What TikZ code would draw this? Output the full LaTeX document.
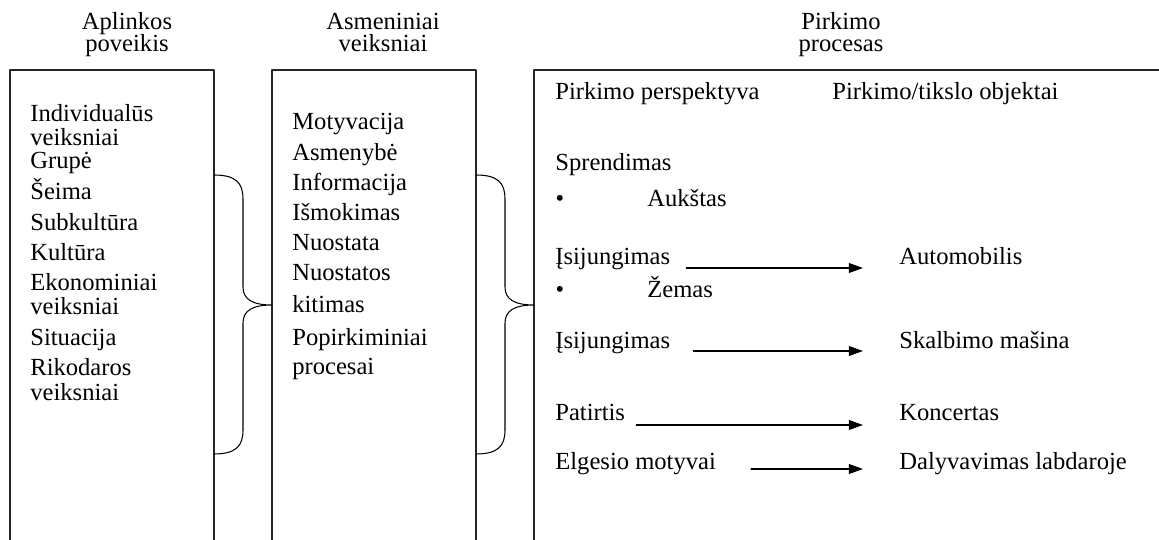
\documentclass[tikz,border=0pt]{standalone}
\usepackage{fontspec}
\setmainfont{Liberation Serif}
\usepackage{tikz}
\usetikzlibrary{calc, arrows.meta, positioning}

\begin{document}
\begin{tikzpicture}[x=0.02cm, y=-0.02cm, line join=round, line cap=round,
    txt/.style={anchor=base west, inner sep=0pt, font=\fontsize{14}{16}\selectfont},
    head/.style={anchor=base, inner sep=0pt, font=\fontsize{14}{16}\selectfont},
    frame/.style={line width=0.8pt, draw=black!85},
    brace/.style={line width=0.6pt},
    arr/.style={-{Triangle[length=8pt, width=5.5pt]}, line width=0.9pt}]
    \useasboundingbox (0,0) rectangle (1159,540);

    % Antraštės
    \node[head] (hA1) at (127,30) {Aplinkos};
    \node[head] (hA2) at (127,52) {poveikis};
    \node[head] (hB1) at (383,30) {Asmeniniai};
    \node[head] (hB2) at (383,52) {veiksniai};
    \node[head] (hC1) at (841,30) {Pirkimo};
    \node[head] (hC2) at (841,52) {procesas};

    % Stačiakampiai (apačia nukirpta)
    \draw[frame] (10,540) |- (214,70) -- (214,540);
    \draw[frame] (272,540) |- (476,70) -- (476,540);
    \draw[frame] (534,540) |- (1159,70);

    % Aplinkos poveikis
    \foreach \t/\y [count=\i] in {Individualūs/122, veiksniai/146, Grupė/169,
        Šeima/200, Subkultūra/231, Kultūra/261, Ekonominiai/291, veiksniai/315,
        Situacija/345, Rikodaros/376, veiksniai/400}
        \node[txt] (ap\i) at (30,\y) {\t};

    % Asmeniniai veiksniai
    \foreach \t/\y [count=\i] in {Motyvacija/130, Asmenybė/161, Informacija/191,
        Išmokimas/221, Nuostata/251, Nuostatos/281, kitimas/313,
        Popirkiminiai/345, procesai/375}
        \node[txt] (as\i) at (292,\y) {\t};

    % Riestiniai skliaustai
    \foreach \xe/\xv/\xt in {214/243/272, 476/505/534}
        \draw[brace] (\xe,175) .. controls (\xe+22,175) and (\xv,183) .. (\xv,199)
            -- (\xv,287) .. controls (\xv,299) and (\xv+9,305) .. (\xt,305)
            .. controls (\xv+9,305) and (\xv,311) .. (\xv,323)
            -- (\xv,430) .. controls (\xv,446) and (\xe+22,454) .. (\xe,454);

    % Pirkimo procesas
    \node[txt] (persp) at (555,100) {Pirkimo perspektyva};
    \node[txt] (obj) at (832,100) {Pirkimo/tikslo objektai};
    \node[txt] (spr) at (555,171) {Sprendimas};
    \node[anchor=base, inner sep=0pt, font=\fontsize{14}{16}\selectfont] (b1) at (560,207) {\textbullet};
    \node[txt] (auk) at (647,207) {Aukštas};
    \node[txt] (isjA) at (555,265) {Įsijungimas};
    \node[txt] (autA) at (899,265) {Automobilis};
    \node[anchor=base, inner sep=0pt, font=\fontsize{14}{16}\selectfont] (b2) at (560,298) {\textbullet};
    \node[txt] (zem) at (647,298) {Žemas};
    \node[txt] (isjB) at (555,349) {Įsijungimas};
    \node[txt] (skal) at (899,349) {Skalbimo mašina};
    \node[txt] (pat) at (555,420) {Patirtis};
    \node[txt] (konc) at (899,420) {Koncertas};
    \node[txt] (elg) at (555,469) {Elgesio motyvai};
    \node[txt] (daly) at (899,469) {Dalyvavimas labdaroje};

    % Rodyklės
    \draw[arr] ($(isjA.base east)+(16,3)$) -- ($(autA.base west)+(-36,3)$);
    \draw[arr] ($(isjB.base east)+(23,2)$) -- ($(skal.base west)+(-36,2)$);
    \draw[arr] ($(pat.base east)+(11,5)$) -- ($(konc.base west)+(-36,5)$);
    \draw[arr] ($(elg.base east)+(35,0)$) -- ($(daly.base west)+(-36,0)$);
\end{tikzpicture}
\end{document}
